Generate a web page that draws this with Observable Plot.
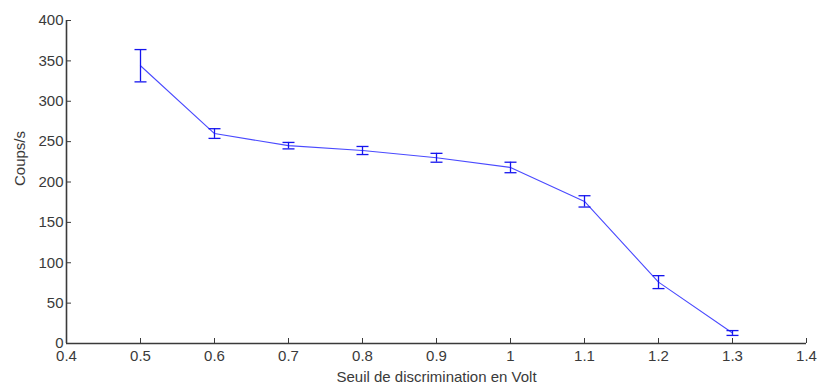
<!DOCTYPE html>
<html>
<head>
<meta charset="utf-8">
<script src="https://cdn.jsdelivr.net/npm/d3@7"></script>
<script src="https://cdn.jsdelivr.net/npm/@observablehq/plot@0.6"></script>
<style>
  html, body { margin: 0; padding: 0; background: #ffffff; }
  svg { display: block; }
</style>
</head>
<body>
<div id="chart"></div>
<script>
const seuils = [0.5, 0.6, 0.7, 0.8, 0.9, 1.0, 1.1, 1.2, 1.3];
const coups  = [344, 260, 245, 239, 230, 218, 176, 76, 13];
const erreurs = [20, 6, 4, 5, 5.5, 6.5, 7, 8, 3];
const xTicks = [0.4, 0.5, 0.6, 0.7, 0.8, 0.9, 1.0, 1.1, 1.2, 1.3, 1.4];
const yTicks = [0, 50, 100, 150, 200, 250, 300, 350, 400];
const xLabel = "Seuil de discrimination en Volt";
const yLabel = "Coups/s";

const data = seuils.map((s, i) => ({x: s, y: coups[i], e: erreurs[i]}));

const capSymbol = {
  draw(context, size) {
    const r = Math.sqrt(size / Math.PI);
    context.moveTo(-r, 0);
    context.lineTo(r, 0);
  }
};

const axisColor = "#3a3a3a";
const lineColor = "#4a4aff";
const barColor = "#1515ee";
const fontSize = 15;

const chart = Plot.plot({
  width: 819,
  height: 387,
  marginLeft: 66,
  marginRight: 13,
  marginTop: 20,
  marginBottom: 44,
  style: {fontFamily: "'Liberation Sans', Arial, sans-serif", fontSize: fontSize + "px", color: axisColor, background: "#ffffff"},
  x: {domain: [0.4, 1.4]},
  y: {domain: [0, 400]},
  marks: [
    Plot.axisX({ticks: xTicks, tickSize: -5, tickPadding: 12, tickFormat: d => String(+d.toFixed(1)), label: null, stroke: axisColor, fill: axisColor}),
    Plot.axisY({ticks: yTicks, tickSize: -5, tickPadding: 8, label: null, stroke: axisColor, fill: axisColor}),
    Plot.ruleY([0], {stroke: axisColor, strokeWidth: 1.6}),
    Plot.ruleX([0.4], {stroke: axisColor, strokeWidth: 1.6}),
    Plot.line(data, {x: "x", y: "y", stroke: lineColor, strokeWidth: 1.1}),
    Plot.ruleX(data, {x: "x", y1: d => d.y - d.e, y2: d => d.y + d.e, stroke: barColor, strokeWidth: 1.3}),
    Plot.dot(data, {x: "x", y: d => d.y + d.e, r: 6, symbol: capSymbol, stroke: barColor, fill: "none", strokeWidth: 1.3}),
    Plot.dot(data, {x: "x", y: d => d.y - d.e, r: 6, symbol: capSymbol, stroke: barColor, fill: "none", strokeWidth: 1.3}),
    Plot.text([xLabel], {frameAnchor: "bottom", lineAnchor: "middle", dy: 34, text: d => d, fill: axisColor, fontSize: fontSize}),
    Plot.text([yLabel], {frameAnchor: "left", dx: -46, dy: 4, rotate: -90, text: d => d, fill: axisColor, fontSize: fontSize})
  ]
});
document.getElementById("chart").appendChild(chart);
</script>
</body>
</html>
